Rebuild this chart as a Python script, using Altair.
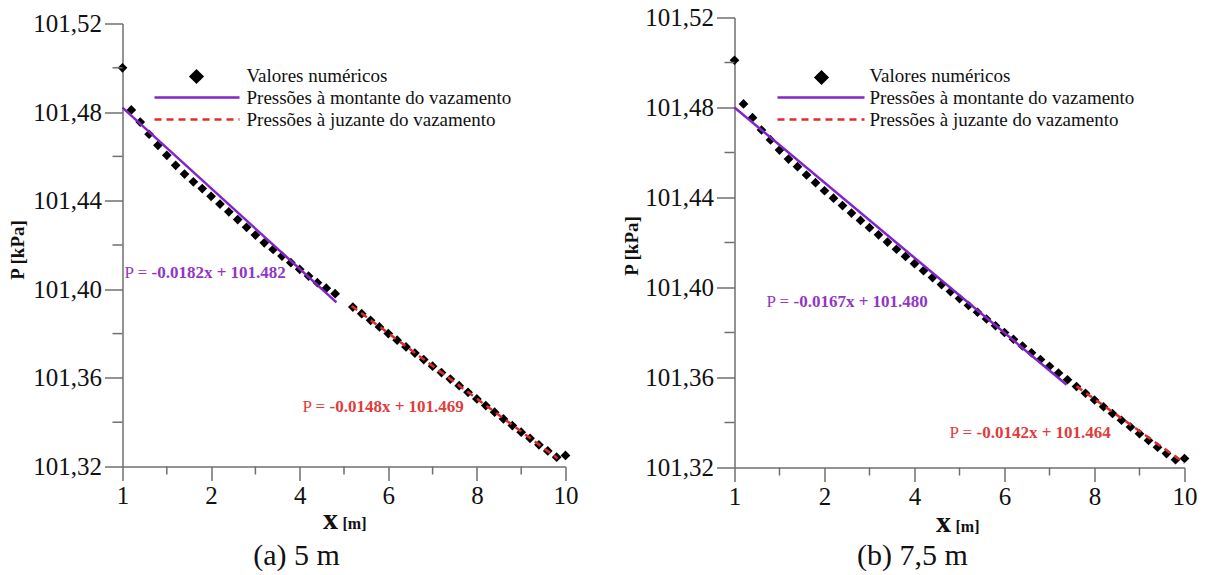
import altair as alt
import pandas as pd

SERIF = "Liberation Serif"
AXIS_GREY = "#6f6f6f"
PURPLE = "#8424c8"
PURPLE_TXT = "#9136c6"
RED = "#e42a2a"
RED_TXT = "#e03c3c"

# axis ticks
X_TICKS = [0, 2, 4, 6, 8, 10]
X_MINOR = [1, 3, 5, 7, 9]
P_TICKS = [101.32, 101.36, 101.40, 101.44, 101.48, 101.52]
P_MINOR = [101.34, 101.38, 101.42, 101.46, 101.50]

LEGEND_LABELS = [
    "Valores numéricos",
    "Pressões à montante do vazamento",
    "Pressões à juzante do vazamento",
]

# (a) leak at 5 m - numerical pressures along the pipe
x_a = [0.0, 0.2, 0.4, 0.6, 0.8, 1.0, 1.2, 1.4, 1.6, 1.8, 2.0, 2.2, 2.4, 2.6,
       2.8, 3.0, 3.2, 3.4, 3.6, 3.8, 4.0, 4.2, 4.4, 4.6, 4.8,
       5.2, 5.4, 5.6, 5.8, 6.0, 6.2, 6.4, 6.6, 6.8, 7.0, 7.2, 7.4, 7.6, 7.8,
       8.0, 8.2, 8.4, 8.6, 8.8, 9.0, 9.2, 9.4, 9.6, 9.8, 10.0]
p_a = [101.500, 101.481, 101.4755, 101.470, 101.465, 101.4605, 101.456,
       101.452, 101.4485, 101.4455, 101.442, 101.4385, 101.435, 101.4315,
       101.428, 101.4245, 101.421, 101.418, 101.415, 101.412, 101.409,
       101.406, 101.403, 101.4005, 101.398,
       101.392, 101.389, 101.386, 101.383, 101.380, 101.377, 101.374,
       101.3712, 101.3683, 101.3653, 101.3624, 101.3595, 101.3565, 101.3535,
       101.3505, 101.3475, 101.3445, 101.3415, 101.3385, 101.3355, 101.3327,
       101.3298, 101.327, 101.3242, 101.325]

# (b) leak at 7,5 m
x_b = [0.0, 0.2, 0.4, 0.6, 0.8, 1.0, 1.2, 1.4, 1.6, 1.8, 2.0, 2.2, 2.4, 2.6,
       2.8, 3.0, 3.2, 3.4, 3.6, 3.8, 4.0, 4.2, 4.4, 4.6, 4.8, 5.0, 5.2, 5.4,
       5.6, 5.8, 6.0, 6.2, 6.4, 6.6, 6.8, 7.0, 7.2, 7.4, 7.6, 7.8, 8.0, 8.2,
       8.4, 8.6, 8.8, 9.0, 9.2, 9.4, 9.6, 9.8, 10.0]
p_b = [101.501, 101.4816, 101.4755, 101.470, 101.4656, 101.4611, 101.4571,
       101.4537, 101.450, 101.4466, 101.443, 101.4397, 101.4364, 101.4331,
       101.4298, 101.4266, 101.4234, 101.4202, 101.417, 101.4138, 101.4106,
       101.4075, 101.4044, 101.4013, 101.3982, 101.3951, 101.392, 101.389,
       101.386, 101.383, 101.380, 101.377, 101.374, 101.371, 101.368,
       101.365, 101.362, 101.359, 101.356, 101.353, 101.350, 101.347,
       101.344, 101.341, 101.338, 101.335, 101.332, 101.329, 101.3262,
       101.3235, 101.324]

# linear fits (slope, intercept) and the x range each one covers
fit_a_up, range_a_up = (-0.0182, 101.482), [0.0, 4.83]
fit_a_down, range_a_down = (-0.0148, 101.469), [5.17, 9.82]
fit_b_up, range_b_up = (-0.0167, 101.480), [0.0, 7.38]
fit_b_down, range_b_down = (-0.0142, 101.464), [7.6, 10.0]

ONE = alt.Data(values=[{}])


def fit_frame(fit, rng):
    m, b = fit
    return pd.DataFrame({"x": rng, "p": [m * v + b for v in rng]})


def equation(fit):
    m, b = fit
    return f"{m:.4f}x + {b:.3f}"


def txt(s, x, y, size, color="#111111", weight="normal", align="left",
        baseline="middle", dx=0):
    return alt.Chart(ONE).mark_text(
        text=s, font=SERIF, fontSize=size, color=color, fontWeight=weight,
        align=align, baseline=baseline, dx=dx,
    ).encode(x=alt.value(x), y=alt.value(y))


def panel(xs, ps, up, up_rng, down, down_rng, w, h, lay):
    top = lay.get("top", 0)
    X = alt.Scale(domain=[0, 10], nice=False)
    Y = alt.Scale(domain=[101.32, 101.52], nice=False, zero=False, range=[h, top])

    x_axis = alt.Axis(
        values=X_TICKS, labelExpr="datum.value == 0 ? '1' : datum.label",
        tickSize=14, labelPadding=3, title=None, grid=False, labelFlush=False,
    )
    y_axis = alt.Axis(
        values=P_TICKS,
        labelExpr="replace(format(datum.value, '.2f'), '.', ',')",
        tickSize=18, labelPadding=3, grid=False, title="P [kPa]", labelFlush=False,
        titleX=lay["ytx"], titleY=lay["yty"], titleAngle=270,
        titleAlign="center", titleBaseline="middle",
    )

    def xq():
        return alt.X("x:Q", scale=X, axis=x_axis)

    def yq():
        return alt.Y("p:Q", scale=Y, axis=y_axis)

    pts = alt.Chart(pd.DataFrame({"x": xs, "p": ps})).mark_point(
        shape="diamond", filled=True, size=95, color="black", opacity=1,
    ).encode(x=xq(), y=yq())

    y_minor = alt.Chart(pd.DataFrame({"p": P_MINOR})).mark_rule(
        color=AXIS_GREY, strokeWidth=1.5,
    ).encode(y=yq(), x=alt.value(-10), x2=alt.value(0))

    x_minor = alt.Chart(pd.DataFrame({"x": X_MINOR})).mark_rule(
        color=AXIS_GREY, strokeWidth=1.5,
    ).encode(x=xq(), y=alt.value(h), y2=alt.value(h + 8))

    up_line = alt.Chart(fit_frame(up, up_rng)).mark_line(
        color=PURPLE, strokeWidth=2.5,
    ).encode(x=xq(), y=yq())

    down_line = alt.Chart(fit_frame(down, down_rng)).mark_line(
        color=RED, strokeWidth=2.5, strokeDash=[7, 5],
    ).encode(x=xq(), y=yq())

    # legend
    lx, ly = lay["leg"]
    leg_pt = alt.Chart(ONE).mark_point(
        shape="diamond", filled=True, size=230, color="black", opacity=1,
    ).encode(x=alt.value(lay["legpt"][0]), y=alt.value(lay["legpt"][1]))
    l0, l1 = lay["legline"]
    leg_up = alt.Chart(ONE).mark_rule(color=PURPLE, strokeWidth=2.5).encode(
        x=alt.value(l0), x2=alt.value(l1), y=alt.value(ly + 22))
    leg_down = alt.Chart(ONE).mark_rule(
        color=RED, strokeWidth=2.5, strokeDash=[7, 5]).encode(
        x=alt.value(l0), x2=alt.value(l1), y=alt.value(ly + 44))
    leg_txt = [txt(s, lx, ly + 22 * i, 19) for i, s in enumerate(LEGEND_LABELS)]

    # fitted equations
    ux, uy = lay["eq_up"]
    dx_, dy_ = lay["eq_down"]
    eqs = [
        txt("P =", ux, uy, 17, PURPLE_TXT),
        txt(equation(up), ux, uy, 17, PURPLE_TXT, "bold", dx=27),
        txt("P =", dx_, dy_, 17, RED_TXT),
        txt(equation(down), dx_, dy_, 17, RED_TXT, "bold", dx=27),
    ]

    # axis title for x and the panel caption
    tx, ty = lay["xtitle"]
    extra = [
        txt("x", tx, ty, 30, weight="bold", align="center", baseline="alphabetic"),
        txt("[m]", tx + 12, ty, 16, weight="bold", baseline="alphabetic"),
        txt(lay["caption"], lay["cap"][0], lay["cap"][1], 30, align="center"),
    ]

    layers = [pts, y_minor, x_minor, up_line, down_line, leg_pt, leg_up, leg_down]
    layers += leg_txt + eqs + extra
    return alt.layer(*layers).properties(width=w, height=h)


left = panel(
    x_a, p_a, fit_a_up, range_a_up, fit_a_down, range_a_down, 443, 443,
    dict(ytx=-105, yty=226, leg=(124, 52), legpt=(74, 53), legline=(32, 117),
         eq_up=(2, 249), eq_down=(180, 383), xtitle=(208, 505),
         caption="(a) 5 m", cap=(174, 532)),
)
# the right panel's plot starts 6 px above the shared row origin
right = panel(
    x_b, p_b, fit_b_up, range_b_up, fit_b_down, range_b_down, 450, 444,
    dict(top=-6, ytx=-103, yty=222, leg=(135, 52), legpt=(87, 54), legline=(43, 130),
         eq_up=(32, 278), eq_down=(215, 409), xtitle=(209, 508),
         caption="(b) 7,5 m", cap=(178, 532)),
)

chart = alt.hconcat(left, right, spacing=44).properties(
    padding={"left": 8.5, "top": 5.5, "right": 0, "bottom": 0},
    background="white",
).configure_view(stroke=None).configure_axis(
    domainColor=AXIS_GREY, tickColor=AXIS_GREY, domainWidth=1.5, tickWidth=1.5,
    labelFont=SERIF, labelFontSize=25, labelColor="#111111",
    titleFont=SERIF, titleFontSize=19, titleFontWeight="bold", titleColor="#111111",
)

chart.save("out.html", embed_options={"renderer": "svg", "actions": False})
